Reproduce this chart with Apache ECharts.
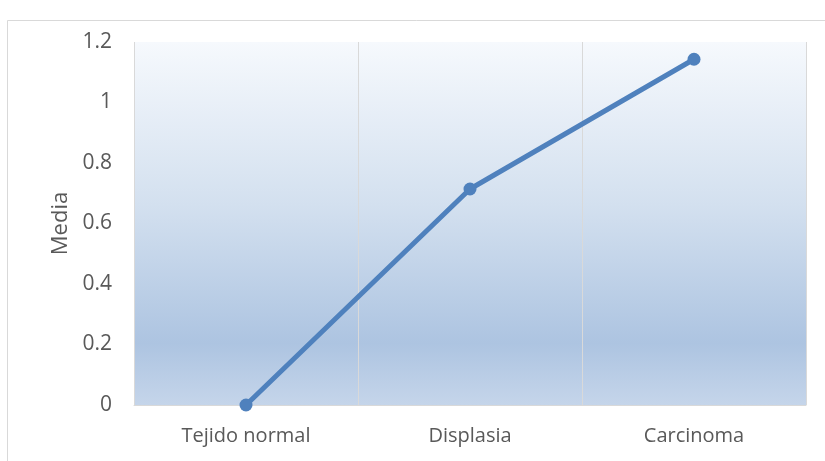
<!DOCTYPE html>
<html>
<head>
<meta charset="utf-8">
<script src="https://cdn.jsdelivr.net/npm/echarts@6/dist/echarts.min.js"></script>
<style>
  html, body { margin: 0; padding: 0; background: #ffffff; }
  #chart { width: 825px; height: 461px; }
</style>
</head>
<body>
<div id="chart"></div>
<script>
// Mean value per tissue type
const categories = ['Tejido normal', 'Displasia', 'Carcinoma'];
const mediaValues = [0, 0.714, 1.143];
const yTicks = { min: 0, max: 1.2, interval: 0.2 };
const yAxisTitle = 'Media';

const chart = echarts.init(document.getElementById('chart'), null, { renderer: 'canvas' });

const labelFont = '"Open Sans", Lato, sans-serif';

chart.setOption({
  animation: false,
  backgroundColor: '#ffffff',
  graphic: [{
    type: 'rect',
    shape: { x: 7.5, y: 20.5, width: 840, height: 460 },
    style: { fill: 'none', stroke: '#d9d9d9', lineWidth: 1 },
    silent: true
  }],
  grid: {
    left: 134, right: 19, top: 42, bottom: 56,
    show: true,
    borderWidth: 0,
    backgroundColor: {
      type: 'linear', x: 0, y: 0, x2: 0, y2: 1,
      colorStops: [
        { offset: 0, color: '#f6f9fd' },
        { offset: 0.45, color: '#d3e0ef' },
        { offset: 0.83, color: '#adc4e1' },
        { offset: 1, color: '#c5d5ea' }
      ]
    }
  },
  xAxis: {
    type: 'category',
    data: categories,
    boundaryGap: true,
    axisLine: { show: true, lineStyle: { color: '#d9d9d9', width: 1 } },
    axisTick: { show: false },
    splitLine: { show: true, lineStyle: { color: '#d9d9d9', width: 1 } },
    axisLabel: { color: '#595959', fontSize: 20, fontFamily: labelFont, margin: 21 }
  },
  yAxis: {
    type: 'value',
    min: yTicks.min, max: yTicks.max, interval: yTicks.interval,
    name: yAxisTitle,
    nameLocation: 'middle',
    nameGap: 62,
    nameTextStyle: { color: '#595959', fontSize: 22, fontFamily: labelFont },
    axisLine: { show: false },
    axisTick: { show: false },
    splitLine: { show: false },
    axisLabel: {
      color: '#595959', fontSize: 21, fontFamily: labelFont, margin: 22,
      formatter: v => String(Math.round(v * 10) / 10)
    }
  },
  series: [{
    type: 'line',
    data: mediaValues,
    symbol: 'circle',
    symbolSize: 13,
    lineStyle: { color: '#4f81bd', width: 5 },
    itemStyle: { color: '#4f81bd' },
    z: 5
  }]
});
</script>
</body>
</html>
